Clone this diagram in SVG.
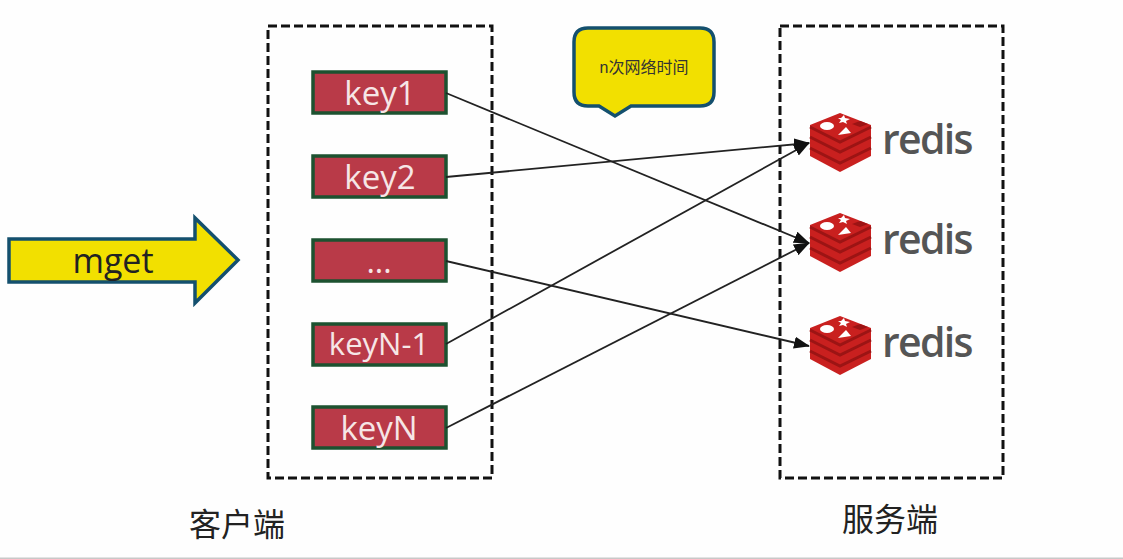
<svg xmlns="http://www.w3.org/2000/svg" width="1123" height="559" viewBox="0 0 1123 559">
<style>
.box{fill:none;stroke:#111;stroke-width:3;stroke-dasharray:9 4}
.key{fill:#b93a48;stroke:#1d5230;stroke-width:3.500}
.kt{font-family:"Open Sans","Noto Sans",sans-serif;fill:#f6e6e6;text-anchor:middle}
.yl{fill:#f2e000;stroke:#14506e;stroke-width:3.500;stroke-linejoin:miter}
.cap{font-family:"Noto Sans CJK SC",sans-serif;font-size:32px;fill:#222;text-anchor:middle}
.rt{font-family:"Open Sans","Noto Sans",sans-serif;font-size:41px;font-weight:600;fill:#555;letter-spacing:-1.700px}
.c{fill:none;stroke:#222;stroke-width:1.800;marker-end:url(#a)}
</style>
<defs>
<marker id="a" markerUnits="userSpaceOnUse" markerWidth="16" markerHeight="14" refX="15" refY="6" orient="auto"><path d="M0 0L16 6L0 12Z" fill="#111"/></marker>
<g id="logo">
<path d="M810 125L840 113L871 125V156L840 172L810 156Z" fill="#c9201f"/>
<path d="M810 137L840 152L871 137M810 148L840 163L871 148" fill="none" stroke="#9c1414" stroke-width="3"/>
<path d="M810 127L840 142L871 127" fill="none" stroke="#9c1414" stroke-width="3"/>
<ellipse cx="827" cy="126" rx="7" ry="4" fill="#fff"/>
<path d="M841 118l3 -3l1 3l5 1l-4 2l1 3l-4 -2l-4 1l2 -3l-3 -2z" fill="#fff"/>
<path d="M838 135l13 -2l-5 -6z" fill="#fff"/>
<path d="M852 124l8 -3l8 3l-8 3z" fill="#9c1414"/>
</g>
</defs>
<rect width="1123" height="559" fill="#fefefe"/>
<rect y="557.500" width="1123" height="1.500" fill="#c8c8c8"/>
<g id="client-box"><rect class="box" x="268" y="26" width="224" height="452"/></g>
<g id="server-box"><rect class="box" x="780" y="26" width="223" height="452"/></g>
<g id="mget"><path class="yl" d="M9 239H195V218L238 260L195 303V282H9Z"/><text x="113" y="273" font-family="'Open Sans','Noto Sans',sans-serif" font-size="34" fill="#222" text-anchor="middle">mget</text></g>
<g id="callout"><path class="yl" d="M588 28H700Q714 28 714 42V92Q714 106 700 106H631L615 116L599 106H588Q574 106 574 92V42Q574 28 588 28Z"/><text x="644" y="73" font-family="'Liberation Sans','Noto Sans CJK SC',sans-serif" font-size="16" fill="#333" text-anchor="middle">n次网络时间</text></g>
<g id="key1"><rect class="key" x="313" y="72" width="133" height="41"/><text class="kt" x="380" y="105" font-size="33">key1</text></g>
<g id="key2"><rect class="key" x="313" y="156" width="133" height="41"/><text class="kt" x="380" y="189" font-size="33">key2</text></g>
<g id="keyDots"><rect class="key" x="313" y="240" width="133" height="41"/><text class="kt" x="379" y="273" font-size="32">...</text></g>
<g id="keyN-1"><rect class="key" x="313" y="324" width="133" height="41"/><text class="kt" x="379" y="355" font-size="31">keyN-1</text></g>
<g id="keyN"><rect class="key" x="313" y="407" width="133" height="41"/><text class="kt" x="379" y="440" font-size="33">keyN</text></g>
<g id="redis1"><use href="#logo"/><text class="rt" x="882" y="154">redis</text></g>
<g id="redis2"><use href="#logo" y="100"/><text class="rt" x="882" y="254">redis</text></g>
<g id="redis3"><use href="#logo" y="203"/><text class="rt" x="882" y="357">redis</text></g>
<g id="connectors">
<path class="c" d="M446 93L809 243"/>
<path class="c" d="M446 177L809 143"/>
<path class="c" d="M446 261L809 346"/>
<path class="c" d="M446 344L809 143"/>
<path class="c" d="M446 428L809 243"/>
</g>
<text class="cap" x="237" y="536">客户端</text>
<text class="cap" x="890" y="531">服务端</text>
</svg>
